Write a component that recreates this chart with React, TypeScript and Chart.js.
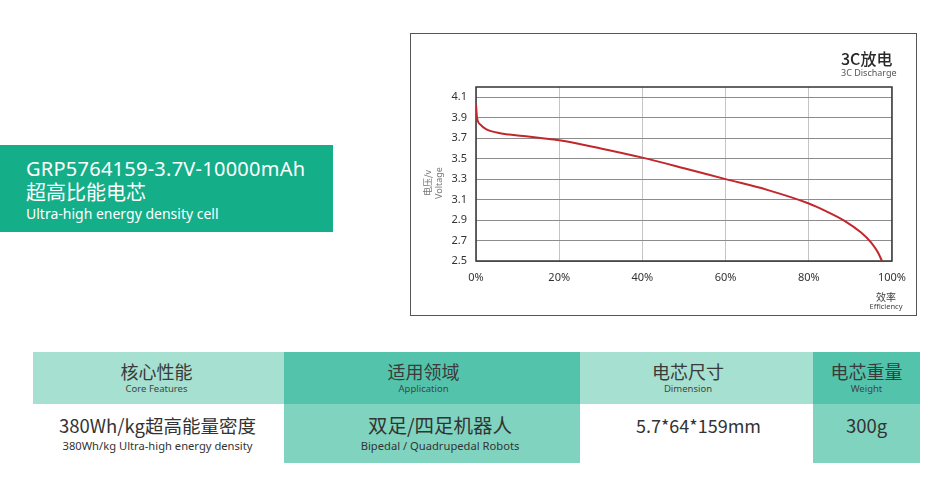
import React, { useEffect, useRef } from "react";
import { Chart, registerables } from "chart.js";

Chart.register(...registerables);

// ---- data ----
const efficiencyPct = [0, 0.25, 1, 2.5, 5, 8, 12, 16, 20, 30, 40, 50, 60, 70, 80, 84, 88.5, 92.5, 95, 96.6, 97.6];
const voltageV = [4.03, 3.9, 3.835, 3.787, 3.755, 3.735, 3.718, 3.7, 3.68, 3.6, 3.51, 3.407, 3.3, 3.195, 3.062, 2.99, 2.895, 2.78, 2.68, 2.585, 2.5];
const voltageTicks = [2.5, 2.7, 2.9, 3.1, 3.3, 3.5, 3.7, 3.9, 4.1];
const efficiencyTicks = [0, 20, 40, 60, 80, 100];

const chartTitle = "3C放电";
const chartSubtitle = "3C Discharge";
const yTitle = ["电压/v", "Voltage"];
const xTitle = ["效率", "Efficiency"];

const productName = "GRP5764159-3.7V-10000mAh";
const productCn = "超高比能电芯";
const productEn = "Ultra-high energy density cell";

const tableHeadCn = ["核心性能", "适用领域", "电芯尺寸", "电芯重量"];
const tableHeadEn = ["Core Features", "Application", "Dimension", "Weight"];
const tableBodyMain = ["380Wh/kg超高能量密度", "双足/四足机器人", "5.7*64*159mm", "300g"];
const tableBodySub = ["380Wh/kg Ultra-high energy density", "Bipedal / Quadrupedal Robots", "", ""];

const FONT = '"Noto Sans", "Noto Sans CJK SC", sans-serif';
const CJK = '"Noto Sans CJK SC", "Noto Sans", sans-serif';

const decorPlugin = {
  id: "decor",
  beforeDatasetsDraw(chart: any) {
    const { ctx, chartArea: a } = chart;
    ctx.save();
    ctx.strokeStyle = "#333";
    ctx.lineWidth = 1.5;
    ctx.strokeRect(a.left, a.top, a.right - a.left, a.bottom - a.top);
    ctx.restore();
  },
  afterDraw(chart: any) {
    const { ctx } = chart;
    ctx.save();
    // title
    ctx.fillStyle = "#2a2a2a";
    ctx.textAlign = "left";
    ctx.textBaseline = "alphabetic";
    ctx.font = `500 16px ${CJK}`;
    ctx.fillText(chartTitle, 430, 30.5);
    ctx.fillStyle = "#555";
    ctx.font = `9px ${FONT}`;
    ctx.textBaseline = "middle";
    ctx.fillText(chartSubtitle, 430, 39.5);
    // x title
    ctx.textAlign = "center";
    ctx.fillStyle = "#444";
    ctx.font = `10px ${CJK}`;
    ctx.fillText(xTitle[0], 475, 263.5);
    ctx.font = `7.5px ${FONT}`;
    ctx.fillText(xTitle[1], 475, 272.7);
    // y title
    ctx.fillStyle = "#777";
    ctx.font = `9px ${CJK}`;
    ctx.translate(17, 149);
    ctx.rotate(-Math.PI / 2);
    ctx.fillText(yTitle[0], 0, 0);
    ctx.font = `9px ${FONT}`;
    ctx.fillText(yTitle[1], 0, 11);
    ctx.restore();
  },
};

function DischargeChart() {
  const ref = useRef<HTMLCanvasElement | null>(null);
  useEffect(() => {
    if (!ref.current) return;
    const chart = new Chart(ref.current, {
      type: "line",
      data: {
        datasets: [
          {
            data: efficiencyPct.map((x, i) => ({ x, y: voltageV[i] })),
            borderColor: "#c1272d",
            borderWidth: 2,
            pointRadius: 0,
            cubicInterpolationMode: "monotone",
            fill: false,
          },
        ],
      },
      options: {
        animation: false,
        responsive: false,
        devicePixelRatio: 1,
        layout: { padding: { left: 0, top: 53, right: 18, bottom: 0 } },
        plugins: { legend: { display: false }, tooltip: { enabled: false } },
        scales: {
          x: {
            type: "linear",
            min: 0,
            max: 100,
            afterBuildTicks: (s: any) => {
              s.ticks = efficiencyTicks.map((v) => ({ value: v }));
            },
            afterFit: (s: any) => {
              s.height = 54;
            },
            grid: { color: "#c4c4c4", lineWidth: 1, drawTicks: false },
            border: { display: false },
            ticks: {
              padding: 10,
              color: "#333",
              font: { size: 11, family: FONT },
              maxRotation: 0,
              callback: (v: any) => `${v}%`,
            },
          },
          y: {
            type: "linear",
            min: 2.5,
            max: 4.2,
            afterBuildTicks: (s: any) => {
              s.ticks = voltageTicks.map((v) => ({ value: v }));
            },
            afterFit: (s: any) => {
              s.width = 65;
            },
            grid: { color: "#8c8c8c", lineWidth: 1, drawTicks: false },
            border: { display: false },
            ticks: {
              padding: 9,
              color: "#333",
              font: { size: 11, family: FONT },
              callback: (v: any) => Number(v).toFixed(1),
            },
          },
        },
      },
      plugins: [decorPlugin],
    } as any);
    return () => chart.destroy();
  }, []);
  return <canvas ref={ref} width={505} height={281} style={{ display: "block" }} />;
}

const cols = [
  { x: 33, w: 251, head: "#a6e0d0", body: "#ffffff", hOff: -2, bOff: -1, bSize: 18.5 },
  { x: 284, w: 296, head: "#53c4ab", body: "#80d4bf", hOff: -8.5, bOff: 8, bSize: 19.5 },
  { x: 580, w: 233, head: "#a6e0d0", body: "#ffffff", hOff: -8.5, bOff: 2, bSize: 18 },
  { x: 813, w: 107, head: "#53c4ab", body: "#80d4bf", hOff: 0, bOff: 0, bSize: 18.5 },
];

function Line({ top, left, width, text, size, color, family, align, spacing }: any) {
  return (
    <div
      style={{
        position: "absolute",
        top,
        left,
        width,
        height: 26,
        lineHeight: "26px",
        fontSize: size,
        color,
        fontFamily: family,
        textAlign: align || "center",
        whiteSpace: "nowrap",
        letterSpacing: spacing || 0,
      }}
    >
      {text}
    </div>
  );
}

export default function App() {
  return (
    <div style={{ position: "absolute", left: 0, top: 0, width: 933, height: 496, background: "#fff", overflow: "hidden" }}>
      {/* product banner */}
      <div style={{ position: "absolute", left: 0, top: 145, width: 333, height: 87, background: "#14ae88" }} />
      <Line top={156} left={26} width={320} text={productName} size={20} color="#fff" family={FONT} align="left" spacing={0.25} />
      <Line top={179} left={26} width={320} text={productCn} size={20} color="#fff" family={CJK} align="left" />
      <Line top={201} left={26} width={320} text={productEn} size={14} color="#fff" family={FONT} align="left" />

      {/* chart */}
      <div
        style={{
          position: "absolute",
          left: 410,
          top: 33,
          width: 507,
          height: 283,
          border: "1px solid #555",
          boxSizing: "border-box",
        }}
      >
        <DischargeChart />
      </div>

      {/* table */}
      {cols.map((c, i) => (
        <React.Fragment key={i}>
          <div style={{ position: "absolute", left: c.x, top: 352, width: c.w, height: 52, background: c.head }} />
          <div style={{ position: "absolute", left: c.x, top: 404, width: c.w, height: 59, background: c.body }} />
          <Line top={357.5} left={c.x + c.hOff} width={c.w} text={tableHeadCn[i]} size={18} color="#3a3a3a" family={CJK} />
          <Line top={375.5} left={c.x + c.hOff} width={c.w} text={tableHeadEn[i]} size={9.5} color="#444" family={FONT} />
          <Line top={411.5} left={c.x + c.bOff} width={c.w} text={tableBodyMain[i]} size={c.bSize} color="#333" family={CJK} />
          {tableBodySub[i] ? (
            <Line top={433} left={c.x + c.bOff} width={c.w} text={tableBodySub[i]} size={11.2} color="#333" family={FONT} />
          ) : null}
        </React.Fragment>
      ))}
    </div>
  );
}
